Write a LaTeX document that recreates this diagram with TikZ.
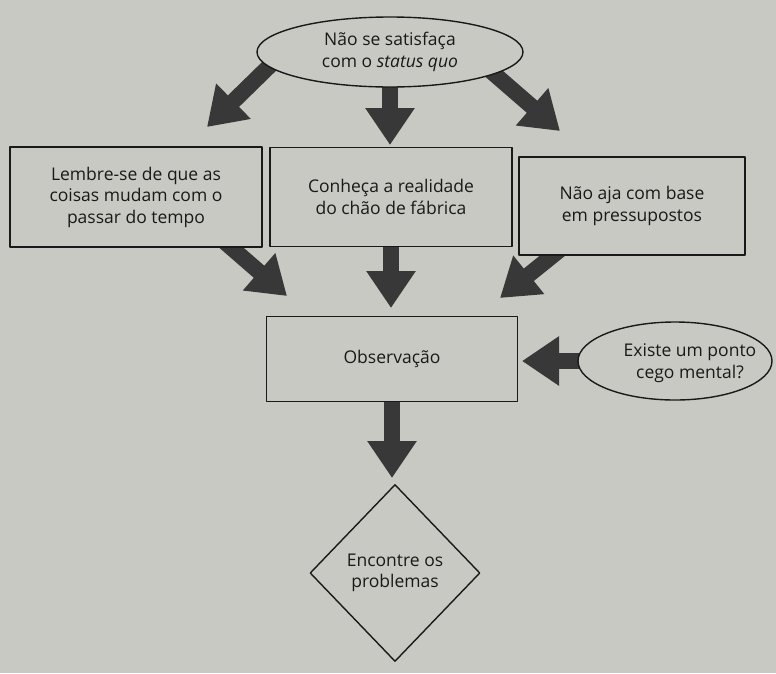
\documentclass[tikz,border=0pt]{standalone}
\usepackage{fontspec}
\setmainfont{Open Sans}
\usepackage{tikz}
\usetikzlibrary{arrows.meta,shapes.geometric,backgrounds}
\definecolor{cbcbcb}{rgb}{0.79,0.79,0.77}
\definecolor{uququq}{rgb}{0.22,0.22,0.22}
\definecolor{qqqqqq}{rgb}{0.1,0.1,0.1}

\begin{document}
\begin{tikzpicture}[line cap=round,line join=round,x=1pt,y=-1pt,
  txt/.style={font=\fontsize{17.5}{21.5}\selectfont,align=center,text=qqqqqq},
  caixa/.style={txt,draw=qqqqqq,fill=cbcbcb,line width=1.4pt,rectangle,inner sep=0pt},
  bolha/.style={txt,draw=qqqqqq,fill=cbcbcb,line width=1.4pt,ellipse,inner sep=0pt},
  losango/.style={txt,draw=qqqqqq,fill=cbcbcb,line width=1.4pt,diamond,aspect=1,inner sep=0pt},
  seta/.style={draw=uququq,line width=16pt,line cap=butt,line join=miter,shorten <=-12pt,
    -{Triangle[width=47pt,length=37pt]}}]

% caixas e elipses
\node[bolha,minimum width=266pt,minimum height=70pt] (satisfaca) at (390,52) {Não se satisfaça\\com o \emph{status quo}};
\node[caixa,minimum width=252pt,minimum height=100pt] (lembre) at (136,197) {Lembre-se de que as\\coisas mudam com o\\passar do tempo};
\node[caixa,minimum width=242pt,minimum height=99pt] (conheca) at (391,197) {Conheça a realidade\\do chão de fábrica};
\node[caixa,minimum width=226pt,minimum height=98pt] (naoaja) at (632,206) {Não aja com base\\em pressupostos};
\node[caixa,minimum width=251pt,minimum height=85pt] (observacao) at (392,359) {Observação};
\node[bolha,minimum width=194pt,minimum height=78pt] (ponto) at (675,361) {};
\node[txt] (pontotxt) at ([xshift=15pt,yshift=-2pt]ponto.center) {Existe um ponto\\cego mental?};
\node[losango,minimum width=170pt,minimum height=177pt] (problemas) at (395,573) {Encontre os\\problemas};

% pontas das setas
\coordinate (t1) at (207,127);
\coordinate (t2) at (390,145);
\coordinate (t3) at (560,131);
\coordinate (t4) at (287,296);
\coordinate (t5) at (391,308);
\coordinate (t6) at (500,298);
\coordinate (t7) at (522,361);
\coordinate (t8) at (392,478);

\begin{scope}[on background layer]
\fill[cbcbcb] (0,0) rectangle (776,673);
\draw[seta] (satisfaca.187) -- (t1);
\draw[seta] (satisfaca.south) -- (t2);
\draw[seta] (satisfaca.-12) -- (t3);
\draw[seta] (lembre.-28.5) -- (t4);
\draw[seta] (conheca.south) -- (t5);
\draw[seta] (naoaja.212) -- (t6);
\draw[seta] (ponto.west) -- (t7);
\draw[seta] (observacao.south) -- (t8);
\end{scope}

\end{tikzpicture}
\end{document}
